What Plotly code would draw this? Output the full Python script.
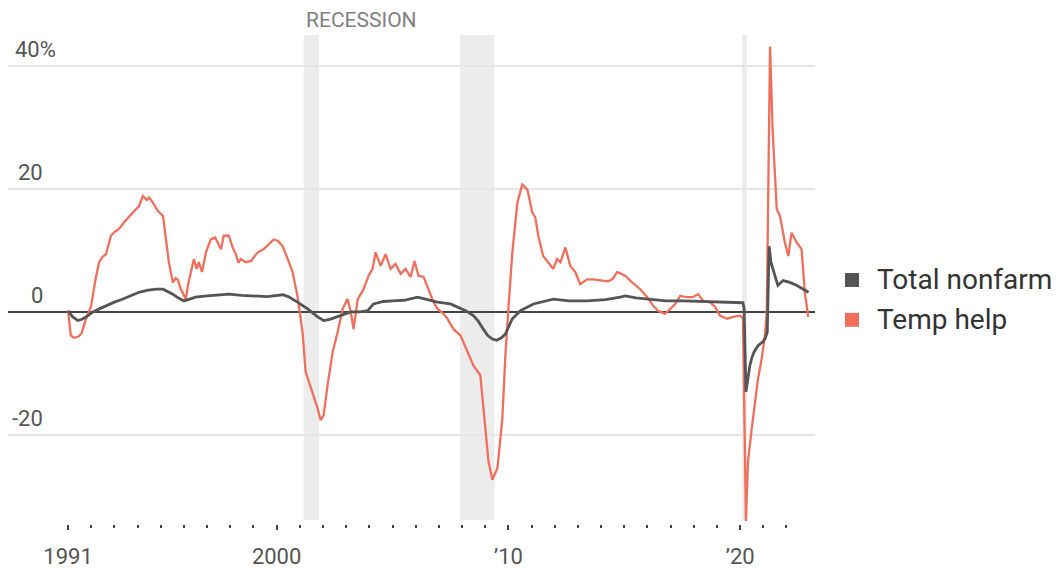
import plotly.graph_objects as go

# ---------------- data ----------------
temp_t = [1991.00, 1991.12, 1991.25, 1991.45, 1991.58, 1991.78, 1992.00, 1992.17, 1992.34, 1992.50,
          1992.64, 1992.85, 1993.00, 1993.20, 1993.40, 1993.60, 1993.85, 1994.06, 1994.23, 1994.40,
          1994.50, 1994.66, 1994.88, 1995.10, 1995.22, 1995.35, 1995.52, 1995.65, 1995.73, 1995.87,
          1996.08, 1996.20, 1996.43, 1996.55, 1996.64, 1996.78, 1996.95, 1997.16, 1997.35, 1997.50,
          1997.60, 1997.72, 1997.94, 1998.10, 1998.24, 1998.35, 1998.45, 1998.67, 1998.90, 1999.10,
          1999.19, 1999.44, 1999.60, 1999.75, 1999.87, 2000.05, 2000.26, 2000.48, 2000.69, 2000.90,
          2001.12, 2001.25, 2001.55, 2001.77, 2001.90, 2002.03, 2002.20, 2002.42, 2002.63, 2002.85,
          2003.06, 2003.20, 2003.32, 2003.50, 2003.75, 2003.97, 2004.14, 2004.27, 2004.49, 2004.70,
          2004.92, 2005.13, 2005.35, 2005.56, 2005.78, 2005.95, 2006.12, 2006.34, 2006.55, 2006.77,
          2006.94, 2007.20, 2007.37, 2007.63, 2007.93, 2008.23, 2008.49, 2008.79, 2009.00, 2009.14,
          2009.31, 2009.53, 2009.74, 2009.87, 2010.00, 2010.17, 2010.39, 2010.60, 2010.82, 2011.03,
          2011.16, 2011.29, 2011.50, 2011.72, 2011.94, 2012.10, 2012.25, 2012.46, 2012.67, 2012.89,
          2013.10, 2013.40, 2013.66, 2014.05, 2014.30, 2014.48, 2014.70, 2015.04, 2015.34, 2015.69,
          2015.99, 2016.25, 2016.46, 2016.76, 2016.98, 2017.20, 2017.41, 2017.71, 2017.95, 2018.19,
          2018.40, 2018.70, 2018.92, 2019.13, 2019.44, 2019.69, 2019.99, 2020.12, 2020.25, 2020.34,
          2020.50, 2020.64, 2020.77, 2020.93, 2021.07, 2021.15, 2021.22, 2021.29, 2021.40, 2021.58,
          2021.72, 2021.93, 2022.08, 2022.22, 2022.44, 2022.65, 2022.79, 2022.94]
temp_v = [0.2, -3.8, -4.2, -4.0, -3.5, -1.1, 1.0, 5.0, 8.1, 9.0,
          9.4, 12.4, 13.0, 13.5, 14.5, 15.4, 16.4, 17.2, 18.9, 18.2,
          18.6, 17.8, 16.4, 15.6, 12.4, 8.1, 4.8, 5.5, 5.3, 3.7,
          2.1, 4.8, 8.6, 7.0, 8.1, 6.5, 9.7, 11.8, 12.1, 11.0,
          10.2, 12.4, 12.4, 10.5, 9.4, 8.0, 8.6, 8.1, 8.3, 9.3,
          9.7, 10.2, 10.8, 11.3, 11.8, 11.6, 10.7, 8.6, 6.5, 2.6,
          -3.3, -9.7, -13.0, -15.7, -17.6, -16.8, -11.9, -6.5, -3.3, 0.5,
          2.1, 0.0, -2.8, 2.1, 3.7, 5.9, 7.0, 9.7, 7.5, 9.4,
          7.0, 7.8, 6.2, 7.0, 5.7, 8.3, 5.9, 5.7, 3.7, 1.6,
          0.5, -0.3, -1.1, -2.8, -3.8, -6.5, -8.7, -10.3, -18.4, -24.3,
          -27.3, -25.4, -17.3, -7.1, 0.5, 9.7, 17.8, 20.7, 19.9, 16.2,
          15.4, 12.4, 9.1, 8.1, 7.0, 8.6, 8.1, 10.5, 7.5, 6.5,
          4.5, 5.3, 5.3, 5.1, 5.0, 5.3, 6.5, 5.9, 4.8, 3.7,
          2.4, 1.0, 0.2, -0.3, 0.5, 1.3, 2.6, 2.4, 2.4, 2.9,
          1.8, 1.6, 0.8, -0.6, -1.1, -0.8, -0.6, -1.0, -34.0, -24.3,
          -19.0, -14.6, -10.9, -7.6, -3.8, 0.0, 18.9, 43.2, 29.7, 16.7,
          15.6, 11.3, 9.1, 12.9, 11.3, 10.2, 3.2, -0.8]

nonfarm_t = [1991.00, 1991.20, 1991.43, 1991.60, 1991.78, 1992.08, 1992.35, 1992.64, 1993.00, 1993.37,
             1993.70, 1994.06, 1994.40, 1994.80, 1995.10, 1995.30, 1995.52, 1995.75, 1996.00, 1996.25,
             1996.50, 1997.00, 1997.50, 1997.94, 1998.50, 1999.10, 1999.60, 2000.26, 2000.50, 2000.90,
             2001.34, 2001.77, 2002.03, 2002.30, 2002.63, 2003.20, 2003.60, 2003.93, 2004.18, 2004.60,
             2005.00, 2005.50, 2006.08, 2006.40, 2006.94, 2007.50, 2007.93, 2008.20, 2008.49, 2008.70,
             2008.92, 2009.10, 2009.31, 2009.50, 2009.70, 2009.87, 2010.00, 2010.17, 2010.52, 2011.08,
             2011.94, 2012.60, 2013.40, 2014.20, 2014.83, 2015.04, 2015.50, 2016.12, 2016.80, 2017.54,
             2018.30, 2019.00, 2019.60, 2020.12, 2020.17, 2020.25, 2020.33, 2020.42, 2020.50, 2020.60,
             2020.77, 2020.99, 2021.08, 2021.17, 2021.25, 2021.33, 2021.50, 2021.63, 2021.85, 2022.15,
             2022.45, 2022.70, 2022.95]
nonfarm_v = [0.2, -0.8, -1.4, -1.2, -0.8, 0.0, 0.5, 1.0, 1.6, 2.1,
             2.6, 3.2, 3.5, 3.7, 3.7, 3.3, 2.9, 2.3, 1.8, 2.1,
             2.4, 2.6, 2.8, 2.9, 2.7, 2.6, 2.5, 2.8, 2.5, 1.6,
             0.5, -0.8, -1.4, -1.2, -0.8, 0.0, 0.0, 0.2, 1.3, 1.7,
             1.8, 1.9, 2.4, 2.1, 1.6, 1.3, 0.5, 0.1, -0.6, -1.5,
             -2.8, -3.8, -4.4, -4.6, -4.2, -3.6, -2.5, -1.1, 0.2, 1.3,
             2.1, 1.8, 1.8, 2.0, 2.4, 2.6, 2.3, 2.1, 1.8, 1.8,
             1.7, 1.6, 1.6, 1.5, 0.6, -13.0, -11.0, -8.7, -7.5, -6.5,
             -5.5, -4.8, -4.3, -3.3, 10.7, 8.1, 5.9, 4.3, 5.1, 4.8,
             4.3, 3.7, 3.2]

recessions = [(2001.17, 2001.83), (2007.92, 2009.40), (2020.08, 2020.29)]

x_tick_vals = [1991, 2000, 2010, 2020]
x_tick_text = ["1991", "2000", "\u201910", "\u201920"]
minor_years = list(range(1991, 2023))
y_grid_vals = [40, 20, 0, -20]
y_tick_text = ["40%", "20", "0", "-20"]

series_names = ["Total nonfarm", "Temp help"]
series_colors = ["#555555", "#EF6F5C"]

# ---------------- figure ----------------
OFF = 8  # page body margin of the html page
W, H = 1063 - OFF, 569 - OFF
L, R, T, B = 0, W - (815 - OFF), 35 - OFF, H - (526 - OFF)
FONT = "Roboto"

pw = W - L - R
ph = H - T - B


def px_to_paper_x(page_px):
    return (page_px - OFF - L) / pw


def px_to_paper_y(page_py):
    return (H - B - (page_py - OFF)) / ph


fig = go.Figure()
fig.add_trace(go.Scatter(x=temp_t, y=temp_v, mode="lines", name=series_names[1],
                         line=dict(color=series_colors[1], width=2.3), showlegend=False,
                         cliponaxis=False))
fig.add_trace(go.Scatter(x=nonfarm_t, y=nonfarm_v, mode="lines", name=series_names[0],
                         line=dict(color=series_colors[0], width=2.8), showlegend=False,
                         cliponaxis=False))

for (a, b) in recessions:
    fig.add_shape(type="rect", xref="x", yref="y", x0=a, x1=b, y0=-33.9, y1=45.06,
                  fillcolor="#ececec", line=dict(width=0), layer="below")

fig.add_annotation(x=recessions[0][0], y=px_to_paper_y(20), xref="x", yref="paper",
                   text="RECESSION", showarrow=False, xanchor="left", yanchor="middle",
                   font=dict(family=FONT, size=21, color="#808080"))

# y tick labels (WSJ style: above gridline, inside at left)
for v, txt in zip(y_grid_vals, y_tick_text):
    right_px = 58 if txt.endswith("%") else 45
    fig.add_annotation(x=px_to_paper_x(right_px), y=v, xref="paper", yref="y", text=txt,
                       showarrow=False, xanchor="right", yanchor="bottom", yshift=2,
                       font=dict(family=FONT, size=22, color="#555555"))

# legend
leg_y = [281, 321]
for name, col, ly in zip(series_names, series_colors, leg_y):
    fig.add_shape(type="rect", xref="paper", yref="paper",
                  x0=px_to_paper_x(845), x1=px_to_paper_x(859),
                  y0=px_to_paper_y(ly + 7), y1=px_to_paper_y(ly - 7),
                  fillcolor=col, line=dict(width=0))
    fig.add_annotation(x=px_to_paper_x(875), y=px_to_paper_y(ly), xref="paper", yref="paper",
                       text=name, showarrow=False, xanchor="left", yanchor="middle",
                       font=dict(family=FONT, size=28, color="#333333"))

fig.update_layout(
    width=W, height=H,
    margin=dict(l=L, r=R, t=T, b=B, pad=0),
    paper_bgcolor="white", plot_bgcolor="white",
    font=dict(family=FONT, color="#555555"),
    showlegend=False,
)
fig.update_xaxes(
    range=[1988.41, 2023.23], showgrid=False, zeroline=False, showline=False,
    tickmode="array", tickvals=x_tick_vals, ticktext=x_tick_text,
    ticks="outside", ticklen=5, tickwidth=2, tickcolor="#444444",
    ticklabelstandoff=8,
    tickfont=dict(family=FONT, size=22, color="#555555"),
    minor=dict(tickmode="array", tickvals=minor_years, ticks="outside", ticklen=3,
               tickwidth=2, tickcolor="#444444", showgrid=False),
)
fig.update_yaxes(
    range=[-34.5, 45.06], tickmode="array", tickvals=y_grid_vals, showticklabels=False,
    showgrid=True, gridcolor="#e6e6e6", gridwidth=1.5,
    zeroline=True, zerolinecolor="#444444", zerolinewidth=2, showline=False, ticks="",
)

fig.write_html("out.html")
